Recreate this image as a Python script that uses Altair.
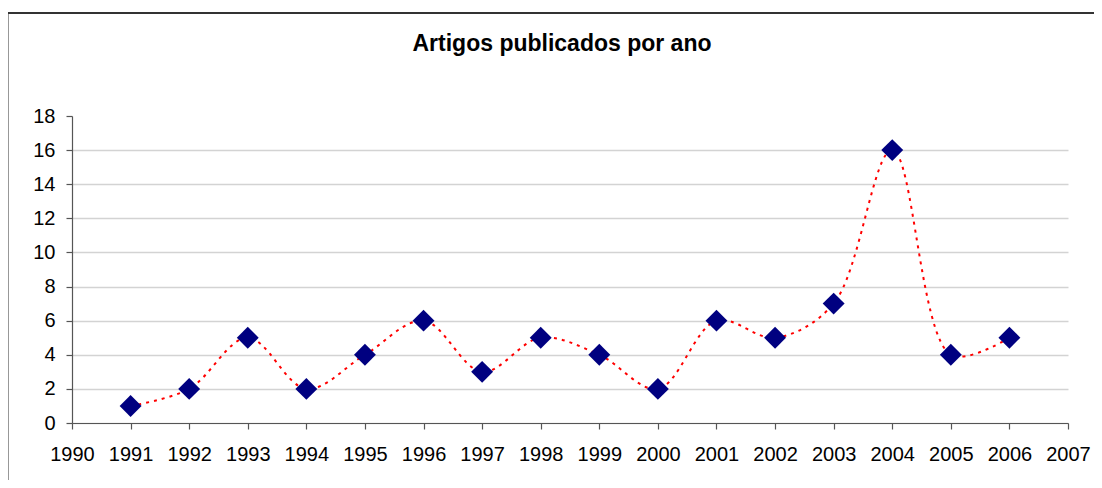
import altair as alt
import pandas as pd

anos = [1991, 1992, 1993, 1994, 1995, 1996, 1997, 1998, 1999, 2000, 2001, 2002, 2003, 2004, 2005, 2006]
artigos = [1, 2, 5, 2, 4, 6, 3, 5, 4, 2, 6, 5, 7, 16, 4, 5]
x_ticks = list(range(1990, 2008))
y_ticks = list(range(0, 19, 2))
titulo = "Artigos publicados por ano"

df = pd.DataFrame({"ano": anos, "artigos": artigos})
FONT = "Liberation Sans"

x_enc = alt.X("ano:Q",
              scale=alt.Scale(domain=[1990, 2007], nice=False, zero=False),
              axis=alt.Axis(values=x_ticks, format="d", grid=False, title=None,
                            labelFlush=False, labelOverlap=False, labelPadding=15))
y_enc = alt.Y("artigos:Q",
              scale=alt.Scale(domain=[0, 18], nice=False),
              axis=alt.Axis(values=y_ticks, title=None, grid=True, labelPadding=11,
                            gridOpacity=alt.condition("datum.value >= 18", alt.value(0), alt.value(1))))

border = alt.Chart(pd.DataFrame({"k": [0]})).mark_rect(
    fill="transparent", stroke="#333333", strokeWidth=2
).encode(x=alt.value(-64.5), x2=alt.value(1100), y=alt.value(-103), y2=alt.value(500))

line = alt.Chart(df).mark_line(
    color="#ff0000", strokeWidth=2, strokeDash=[3, 5], interpolate="catmull-rom"
).encode(x=x_enc, y=y_enc)

points = alt.Chart(df).mark_point(
    shape="diamond", filled=True, size=480, color="#000080", opacity=1
).encode(x=x_enc, y=y_enc)

chart = alt.layer(border, line, points).properties(
    width=996, height=307,
    autosize="none",
    padding={"left": 64, "top": 108, "right": 26, "bottom": 57},
    title=alt.TitleParams(titulo, font=FONT, fontSize=23, fontWeight="bold", color="black",
                          anchor="middle", baseline="alphabetic", offset=-62, dx=-8),
).configure_view(stroke=None).configure_axis(
    labelFont=FONT, labelFontSize=20, labelColor="black",
    domainColor="#555555", tickColor="#555555", domainWidth=1.2, tickWidth=1.2, tickSize=6,
    gridColor="#d3d3d3", gridWidth=1.5,
)

chart.save("out.html", embed_options={"renderer": "svg", "actions": False})
